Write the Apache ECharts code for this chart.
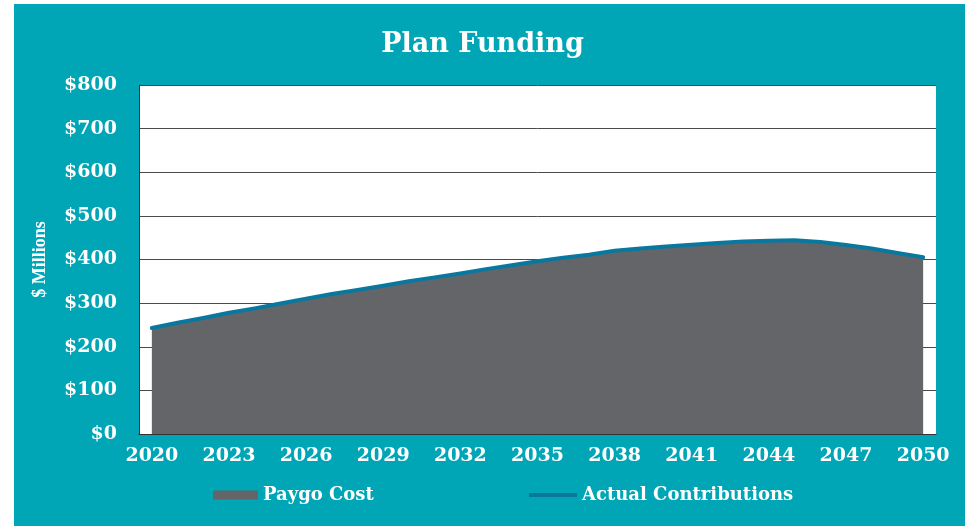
<!DOCTYPE html>
<html>
<head>
<meta charset="utf-8">
<script src="https://cdn.jsdelivr.net/npm/echarts@6/dist/echarts.min.js"></script>
<style>
  html, body { margin: 0; padding: 0; background: #fff; }
  #chart { width: 965px; height: 526px; }
</style>
</head>
<body>
<div id="chart"></div>
<script>
// Projection years, 2020 through 2050
const years = [
  '2020','2021','2022','2023','2024','2025','2026','2027','2028','2029',
  '2030','2031','2032','2033','2034','2035','2036','2037','2038','2039',
  '2040','2041','2042','2043','2044','2045','2046','2047','2048','2049','2050'
];

// Pay-as-you-go benefit cost, $ millions
const paygoCost = [
  243, 255, 266, 278, 288, 299, 310, 321, 330, 340,
  350, 359, 368, 378, 387, 396, 404, 411, 420, 425,
  430, 434, 438, 441, 443, 444, 440, 433, 425, 415, 405
];

// Actual contributions, $ millions
const actualContributions = [
  243, 255, 266, 278, 288, 299, 310, 321, 330, 340,
  350, 359, 368, 378, 387, 396, 404, 411, 420, 425,
  430, 434, 438, 441, 443, 444, 440, 433, 425, 415, 405
];

// Value axis ticks
const yMin = 0, yMax = 800, yStep = 100;

const TEAL = '#00a6b6';
const GRAY = '#636569';
const BLUE = '#0a789e';
const SERIF = '"DejaVu Serif", serif';

const chart = echarts.init(document.getElementById('chart'));
chart.setOption({
  backgroundColor: '#ffffff',
  animation: false,
  graphic: [{
    type: 'rect',
    z: -10,
    shape: { x: 14, y: 4, width: 951, height: 522 },
    style: { fill: TEAL }
  }],
  title: {
    text: 'Plan Funding',
    left: 'center',
    top: 26,
    textStyle: { color: '#ffffff', fontFamily: SERIF, fontWeight: 'bold', fontSize: 27 }
  },
  grid: {
    left: 139, right: 29, top: 85, bottom: 92,
    show: true, backgroundColor: '#ffffff', borderWidth: 0
  },
  legend: [{
    left: 213, top: 486, padding: 0,
    itemWidth: 45, itemHeight: 9,
    data: [{ name: 'Paygo Cost', icon: 'rect' }],
    textStyle: { color: '#ffffff', fontFamily: SERIF, fontWeight: 'bold', fontSize: 18 }
  }, {
    left: 529, top: 486, padding: 0,
    itemWidth: 48, itemHeight: 4,
    data: [{ name: 'Actual Contributions', icon: 'rect' }],
    textStyle: { color: '#ffffff', fontFamily: SERIF, fontWeight: 'bold', fontSize: 18 }
  }],
  xAxis: {
    type: 'category',
    data: years,
    boundaryGap: true,
    axisLine: { show: true, lineStyle: { color: '#333333', width: 1 } },
    axisTick: { show: false },
    axisLabel: {
      interval: 2,
      margin: 13,
      color: '#ffffff', fontFamily: SERIF, fontWeight: 'bold', fontSize: 19
    },
    splitLine: { show: false }
  },
  yAxis: {
    type: 'value',
    min: yMin, max: yMax, interval: yStep,
    name: '$ Millions',
    nameLocation: 'middle',
    nameRotate: 90,
    nameGap: 90,
    nameTextStyle: { color: '#ffffff', fontFamily: '"Liberation Serif", serif', fontWeight: 'bold', fontSize: 18 },
    axisLine: { show: true, lineStyle: { color: '#333333', width: 1 } },
    axisTick: { show: false },
    axisLabel: {
      margin: 22,
      formatter: v => '$' + v,
      color: '#ffffff', fontFamily: SERIF, fontWeight: 'bold', fontSize: 19
    },
    splitLine: { show: true, lineStyle: { color: '#4a4a4a', width: 1 } }
  },
  series: [{
    name: 'Paygo Cost',
    type: 'line',
    data: paygoCost,
    symbol: 'none',
    itemStyle: { color: GRAY },
    lineStyle: { width: 0, color: GRAY },
    areaStyle: { color: GRAY, opacity: 1 },
    z: 2
  }, {
    name: 'Actual Contributions',
    type: 'line',
    data: actualContributions,
    symbol: 'none',
    itemStyle: { color: BLUE },
    lineStyle: { width: 4, color: BLUE, cap: 'round', join: 'round' },
    z: 3
  }]
});
</script>
</body>
</html>
